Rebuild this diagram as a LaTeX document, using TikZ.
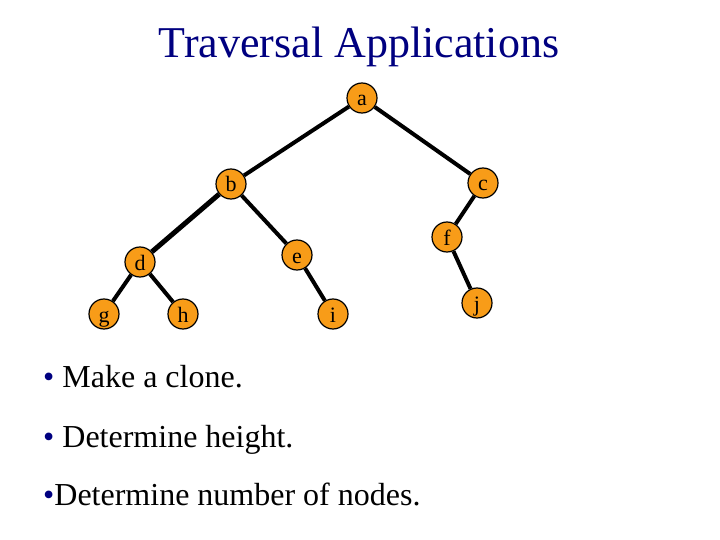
\documentclass[tikz,border=0pt]{standalone}
\usepackage{fontspec}
\setmainfont{Liberation Serif}
\usetikzlibrary{backgrounds}
\definecolor{treeorange}{RGB}{248,156,24}
\definecolor{slidenavy}{RGB}{0,0,128}
\begin{document}
\begin{tikzpicture}[x=1pt,y=-1pt,line join=round,
	vertex/.style={circle,draw=black,line width=1.2pt,fill=treeorange,minimum size=30pt,inner sep=0pt,
		font=\fontsize{22}{22}\selectfont,text height=16pt,text depth=0pt},
	branch/.style={line width=4pt,line cap=butt},
	bullet/.style={anchor=base west,inner sep=0pt,font=\fontsize{32}{32}\selectfont}]
	\useasboundingbox (0,0) rectangle (720,540);
	\node[anchor=base,inner sep=0pt,text=slidenavy,font=\fontsize{44}{44}\selectfont] (head) at (359,58) {Traversal Applications};
	\path
	(362,98) node[vertex] (a) {a}
	(231,184) node[vertex] (b) {b}
	(483,183) node[vertex] (c) {c}
	(140,262) node[vertex] (d) {d}
	(297,255) node[vertex] (e) {e}
	(447,237) node[vertex] (f) {f}
	(104,314) node[vertex] (g) {g}
	(183,314) node[vertex] (h) {h}
	(333,314) node[vertex] (i) {i}
	(477,303) node[vertex] (j) {j}
	;
	\begin{scope}[on background layer]
		\draw[branch]
		(a)--(b) (a)--(c) (b)--(e) (c)--(f)
		(d)--(g) (d)--(h) (e)--(i) (f)--(j)
		;
		\draw[branch,line width=5pt] (b)--(d);
	\end{scope}
	\node[bullet] (clone) at (43,387) {{\color{slidenavy}\textbullet}\ Make a clone.};
	\node[bullet] (height) at (43,447) {{\color{slidenavy}\textbullet}\ Determine height.};
	\node[bullet] (count) at (43,505) {{\color{slidenavy}\textbullet}Determine number of nodes.};
\end{tikzpicture}
\end{document}
